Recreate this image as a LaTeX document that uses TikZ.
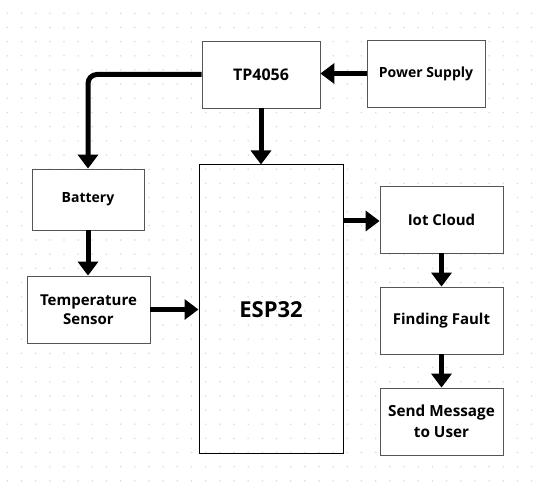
\documentclass[tikz,border=0pt]{standalone}
\usepackage{fontspec}
\setmainfont{Open Sans}
\usetikzlibrary{arrows.meta}
\definecolor{boxgray}{HTML}{555555}
\definecolor{dotgray}{HTML}{DCDCDC}
\tikzset{
  box/.style={draw=boxgray, fill=white, line width=0.8pt, inner sep=0pt, align=center,
    font=\bfseries\fontsize{15}{20}\selectfont},
  conn/.style={line width=5pt, -{Triangle[length=14pt,width=20pt]}},
  griddot/.style={fill=dotgray}
}
\begin{document}
\begin{tikzpicture}[x=1pt,y=-1pt]
\useasboundingbox (0,0) rectangle (542,489);
\fill[white] (0,0) rectangle (542,489);
\foreach \i in {0,...,37} {
  \foreach \j in {0,...,33} {
    \fill[griddot] ({7.3+14.17*\i},{13.3+14.17*\j}) circle (0.9pt);
  }
}
\node[box, minimum width=118pt, minimum height=67pt, font=\bfseries\fontsize{16}{20}\selectfont] (tp) at (261,74.5) {TP4056};
\node[box, minimum width=118pt, minimum height=67pt, font=\bfseries\fontsize{14}{20}\selectfont] (ps) at (426,73.5) {Power Supply};
\node[draw=black, line width=1pt, inner sep=0pt, minimum width=144pt, minimum height=289pt, font=\bfseries\fontsize{22}{26}\selectfont] (esp) at (271,309.5) {ESP32};
\node[box, minimum width=112pt, minimum height=61pt, font=\bfseries\fontsize{14}{20}\selectfont] (bat) at (88,199.5) {Battery};
\node[box, minimum width=123pt, minimum height=67pt, font=\bfseries\fontsize{15}{19.5}\selectfont] (temp) at (88.5,309.5) {Temperature\\Sensor};
\node[box, minimum width=123pt, minimum height=67pt] (iot) at (441.5,219.5) {Iot Cloud};
\node[box, minimum width=123pt, minimum height=67pt, font=\bfseries\fontsize{15}{20}\selectfont] (ff) at (441.5,320.5) {Finding Fault};
\node[box, minimum width=123pt, minimum height=67pt, font=\bfseries\fontsize{15.3}{21}\selectfont] (sm) at (441.5,421.5) {Send Message\\to User};
\draw[conn] (ps.west) -- (tp.east |- ps.west);
\draw[conn, rounded corners=9pt] (tp.west) -| (bat.north);
\draw[conn] (tp.south) -- (tp.south |- esp.north);
\draw[conn] (bat.south) -- (bat.south |- temp.north);
\draw[conn] (temp.east) -- (esp.west |- temp.east);
\draw[conn] (esp.east |- 0,221) -- (iot.west |- 0,221);
\draw[conn] (iot.south) -- (ff.north);
\draw[conn] (ff.south) -- (sm.north);
\end{tikzpicture}
\end{document}
